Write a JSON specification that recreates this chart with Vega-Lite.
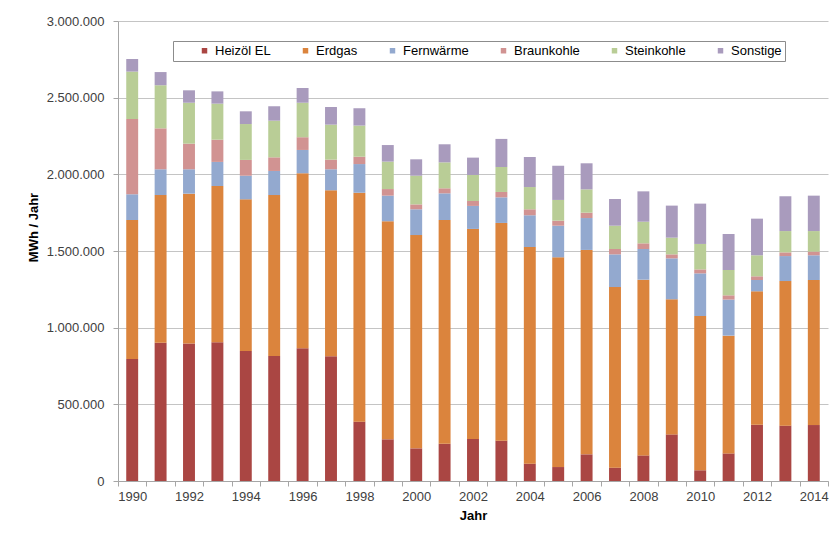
{
  "$schema": "https://vega.github.io/schema/vega-lite/v6.json",
  "width": 710,
  "height": 460,
  "autosize": "none",
  "padding": {"left": 118, "top": 21, "right": 5, "bottom": 61},
  "background": "white",
  "config": {
    "font": "Liberation Sans",
    "view": {"stroke": null},
    "locale": {"number": {"decimal": ",", "thousands": ".", "grouping": [3], "currency": ["", " €"]}}
  },
  "data": {
    "values": [
      {"Jahr": 1990, "Heizöl EL": 796000, "Erdgas": 906000, "Fernwärme": 168000, "Braunkohle": 491000, "Steinkohle": 309000, "Sonstige": 82000},
      {"Jahr": 1991, "Heizöl EL": 902000, "Erdgas": 963000, "Fernwärme": 168000, "Braunkohle": 267000, "Steinkohle": 281000, "Sonstige": 86000},
      {"Jahr": 1992, "Heizöl EL": 896000, "Erdgas": 978000, "Fernwärme": 159000, "Braunkohle": 167000, "Steinkohle": 267000, "Sonstige": 81000},
      {"Jahr": 1993, "Heizöl EL": 905000, "Erdgas": 1019000, "Fernwärme": 157000, "Braunkohle": 145000, "Steinkohle": 235000, "Sonstige": 80000},
      {"Jahr": 1994, "Heizöl EL": 848000, "Erdgas": 989000, "Fernwärme": 154000, "Braunkohle": 103000, "Steinkohle": 234000, "Sonstige": 83000},
      {"Jahr": 1995, "Heizöl EL": 815000, "Erdgas": 1050000, "Fernwärme": 157000, "Braunkohle": 89000, "Steinkohle": 239000, "Sonstige": 94000},
      {"Jahr": 1996, "Heizöl EL": 865000, "Erdgas": 1142000, "Fernwärme": 152000, "Braunkohle": 83000, "Steinkohle": 225000, "Sonstige": 96000},
      {"Jahr": 1997, "Heizöl EL": 813000, "Erdgas": 1083000, "Fernwärme": 137000, "Braunkohle": 63000, "Steinkohle": 228000, "Sonstige": 115000},
      {"Jahr": 1998, "Heizöl EL": 387000, "Erdgas": 1493000, "Fernwärme": 187000, "Braunkohle": 48000, "Steinkohle": 203000, "Sonstige": 113000},
      {"Jahr": 1999, "Heizöl EL": 272000, "Erdgas": 1422000, "Fernwärme": 167000, "Braunkohle": 43000, "Steinkohle": 179000, "Sonstige": 108000},
      {"Jahr": 2000, "Heizöl EL": 213000, "Erdgas": 1391000, "Fernwärme": 168000, "Braunkohle": 32000, "Steinkohle": 187000, "Sonstige": 107000},
      {"Jahr": 2001, "Heizöl EL": 243000, "Erdgas": 1459000, "Fernwärme": 174000, "Braunkohle": 33000, "Steinkohle": 169000, "Sonstige": 118000},
      {"Jahr": 2002, "Heizöl EL": 274000, "Erdgas": 1370000, "Fernwärme": 150000, "Braunkohle": 32000, "Steinkohle": 170000, "Sonstige": 113000},
      {"Jahr": 2003, "Heizöl EL": 263000, "Erdgas": 1420000, "Fernwärme": 167000, "Braunkohle": 35000, "Steinkohle": 163000, "Sonstige": 183000},
      {"Jahr": 2004, "Heizöl EL": 113000, "Erdgas": 1413000, "Fernwärme": 207000, "Braunkohle": 39000, "Steinkohle": 145000, "Sonstige": 196000},
      {"Jahr": 2005, "Heizöl EL": 91000, "Erdgas": 1368000, "Fernwärme": 206000, "Braunkohle": 33000, "Steinkohle": 135000, "Sonstige": 223000},
      {"Jahr": 2006, "Heizöl EL": 174000, "Erdgas": 1333000, "Fernwärme": 208000, "Braunkohle": 35000, "Steinkohle": 152000, "Sonstige": 170000},
      {"Jahr": 2007, "Heizöl EL": 87000, "Erdgas": 1178000, "Fernwärme": 213000, "Braunkohle": 35000, "Steinkohle": 152000, "Sonstige": 174000},
      {"Jahr": 2008, "Heizöl EL": 167000, "Erdgas": 1146000, "Fernwärme": 200000, "Braunkohle": 37000, "Steinkohle": 141000, "Sonstige": 198000},
      {"Jahr": 2009, "Heizöl EL": 304000, "Erdgas": 881000, "Fernwärme": 267000, "Braunkohle": 26000, "Steinkohle": 109000, "Sonstige": 209000},
      {"Jahr": 2010, "Heizöl EL": 70000, "Erdgas": 1006000, "Fernwärme": 278000, "Braunkohle": 26000, "Steinkohle": 166000, "Sonstige": 263000},
      {"Jahr": 2011, "Heizöl EL": 180000, "Erdgas": 768000, "Fernwärme": 235000, "Braunkohle": 28000, "Steinkohle": 165000, "Sonstige": 235000},
      {"Jahr": 2012, "Heizöl EL": 367000, "Erdgas": 870000, "Fernwärme": 74000, "Braunkohle": 24000, "Steinkohle": 137000, "Sonstige": 239000},
      {"Jahr": 2013, "Heizöl EL": 361000, "Erdgas": 943000, "Fernwärme": 163000, "Braunkohle": 24000, "Steinkohle": 139000, "Sonstige": 227000},
      {"Jahr": 2014, "Heizöl EL": 365000, "Erdgas": 946000, "Fernwärme": 161000, "Braunkohle": 24000, "Steinkohle": 134000, "Sonstige": 231000}
    ]
  },
  "transform": [
    {"fold": ["Heizöl EL", "Erdgas", "Fernwärme", "Braunkohle", "Steinkohle", "Sonstige"], "as": ["Energie", "MWh"]},
    {"calculate": "indexof(['Heizöl EL', 'Erdgas', 'Fernwärme', 'Braunkohle', 'Steinkohle', 'Sonstige'], datum.Energie)", "as": "Reihenfolge"}
  ],
  "mark": {"type": "bar", "width": {"band": 0.42}},
  "encoding": {
    "x": {
      "field": "Jahr",
      "type": "ordinal",
      "scale": {"paddingInner": 0, "paddingOuter": 0},
      "axis": {
        "title": "Jahr",
        "titleFontSize": 13,
        "titleFontWeight": "bold",
        "titleColor": "#000000",
        "titlePadding": 6,
        "labelAngle": 0,
        "labelFontSize": 13,
        "labelColor": "#404040",
        "labelPadding": 4,
        "labelOverlap": false,
        "labelExpr": "datum.value % 2 === 0 ? datum.label : ''",
        "tickBand": "extent",
        "tickSize": 5,
        "tickColor": "#A6A6A6",
        "domainColor": "#A6A6A6",
        "grid": false
      }
    },
    "y": {
      "field": "MWh",
      "type": "quantitative",
      "stack": "zero",
      "scale": {"domain": [0, 3000000], "nice": false},
      "axis": {
        "title": "MWh / Jahr",
        "titleFontSize": 13,
        "titleFontWeight": "bold",
        "titleColor": "#000000",
        "titleX": -81,
        "titleY": 206,
        "titleBaseline": "alphabetic",
        "titleAlign": "center",
        "titleAngle": -90,
        "values": [0, 500000, 1000000, 1500000, 2000000, 2500000, 3000000],
        "format": ",d",
        "labelFontSize": 13,
        "labelColor": "#404040",
        "labelPadding": 9,
        "tickSize": 5,
        "tickColor": "#A6A6A6",
        "domainColor": "#A6A6A6",
        "gridColor": "#C4C4C4",
        "grid": true
      }
    },
    "order": {"field": "Reihenfolge", "type": "quantitative", "sort": "ascending"},
    "color": {
      "field": "Energie",
      "type": "nominal",
      "sort": ["Heizöl EL", "Erdgas", "Fernwärme", "Braunkohle", "Steinkohle", "Sonstige"],
      "scale": {
        "domain": ["Heizöl EL", "Erdgas", "Fernwärme", "Braunkohle", "Steinkohle", "Sonstige"],
        "range": ["#AA4643", "#DB843D", "#93A9CF", "#D19392", "#B9CD96", "#A99BBD"]
      },
      "legend": {
        "orient": "none",
        "legendX": 55,
        "legendY": 20,
        "direction": "horizontal",
        "columns": 6,
        "columnPadding": 28,
        "title": "\u00a0",
        "titleOrient": "left",
        "titlePadding": 22,
        "titleFontSize": 13,
        "labelFontSize": 13,
        "labelColor": "#000000",
        "labelExpr": "datum.label === 'Sonstige' ? 'Sonstige\u2003\u2003' : datum.label",
        "symbolType": "square",
        "symbolSize": 30,
        "symbolStrokeWidth": 0,
        "symbolOffset": 0,
        "labelOffset": 4,
        "strokeColor": "#8C8C8C",
        "fillColor": "#FFFFFF",
        "padding": 3
      }
    }
  }
}
